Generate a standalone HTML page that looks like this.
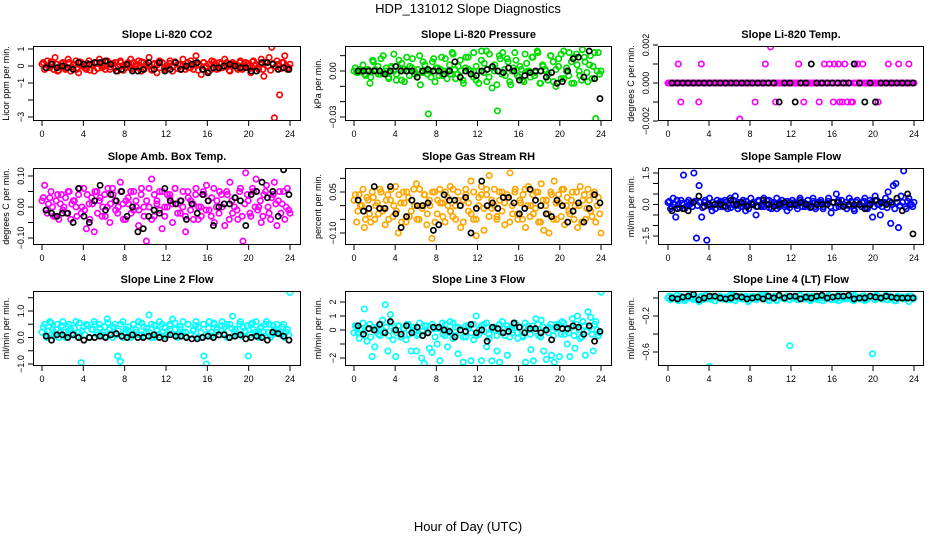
<!DOCTYPE html>
<html><head><meta charset="utf-8"><style>
html,body{margin:0;padding:0;background:#fff;}
svg{display:block;font-family:"Liberation Sans",sans-serif;}
</style></head><body>
<svg id="c" width="936" height="540" viewBox="0 0 936 540">
<text x="468" y="13" text-anchor="middle" font-size="13">HDP_131012  Slope Diagnostics</text>
<text x="468" y="531" text-anchor="middle" font-size="13">Hour of Day (UTC)</text>
</svg>
<script>
const xTicks=[0,4,8,12,16,20,24];
const co2Col=[0.1,-0.2,0.3,-0.1,0.2,0.5,-0.3,0.0,0.2,-0.2,0.4,-0.3,0.1,0.3,-0.4,0.2,0.0,-0.2,0.3,0.1,-0.3,0.2,0.4,-0.1,0.0,0.3,-0.2,0.1,0.2,-0.3,0.3,0.0,-0.1,0.2,0.4,-0.2,0.1,0.3,-0.3,0.2,0.0,0.5,-0.2,0.1,-0.4,0.3,0.2,-0.1,0.0,0.3,-0.3,0.2,0.1,-0.2,0.4,0.0,-0.1,0.3,-0.2,0.6,0.1,-0.5,0.2,0.0,-0.3,0.3,0.1,-0.2,0.2,-0.1,0.4,0.0,-0.3,0.2,0.1,-0.2,0.3,-0.1,0.2,0.0,-0.4,0.3,0.1,-0.2,0.4,-0.6,0.2,0.5,1.1,-3.05,0.3,-1.7,0.2,0.6,-0.2,0.1];
const co2Col2=[0.2,-0.1,0.0,0.25,-0.2,0.1,-0.25,0.15,0.0,-0.15,0.2,-0.05,0.1,-0.2,0.25,0.0,-0.1,0.15,-0.25,0.05,0.2,-0.15,0.1,0.0,-0.2,0.25,-0.05,0.15,-0.1,0.0,0.2,-0.25,0.1,0.05,-0.15,0.2,0.0,-0.1,0.25,-0.2,0.1,0.0,-0.25,0.15,0.05,-0.1,0.2,-0.2,0.0,0.15,-0.05,0.25,-0.15,0.1,0.0,-0.2,0.2,-0.1,0.05,0.15,-0.25,0.0,0.2,-0.1,0.1,-0.2,0.25,0.0,-0.15,0.15,-0.05,0.2,-0.25,0.1,0.0,-0.1,0.2,-0.2,0.05,0.15,-0.15,0.25,0.0,-0.1,0.1,-0.2,0.2,0.0,-0.25,0.15,-0.05,0.1,-0.15,0.2,0.0,-0.1];
const co2Blk=[-0.1,0.1,-0.1,0.0,-0.1,-0.2,0.2,0.1,0.1,0.2,0.2,0.3,0.1,-0.3,-0.2,0.1,-0.3,-0.3,-0.2,0.2,-0.2,0.2,-0.3,-0.2,0.2,-0.2,0.0,0.1,0.2,-0.2,-0.4,-0.1,-0.1,0.0,0.1,0.0,-0.1,-0.1,-0.3,-0.3,0.2,0.2,0.1,-0.2,-0.1,-0.2];
const presCol=[0.0,-0.001,0.001,0.0,-0.002,0.0,-0.008,0.007,0.001,0.003,-0.002,0.01,0.0,-0.004,0.002,0.011,-0.006,0.001,0.005,-0.007,0.0,0.003,0.008,-0.002,0.001,-0.009,0.006,0.0,-0.028,-0.004,0.008,0.002,-0.003,0.009,0.0,-0.005,0.004,0.012,0.001,-0.002,0.007,-0.006,0.002,0.009,0.0,-0.004,0.003,-0.008,0.013,0.005,-0.007,0.011,-0.011,0.004,-0.026,0.008,0.012,-0.003,0.006,-0.009,0.002,0.007,-0.004,0.001,-0.007,0.005,0.0,0.009,-0.003,0.013,-0.008,0.004,0.001,-0.006,0.01,0.006,-0.01,0.003,0.011,-0.005,0.002,0.012,-0.008,0.009,0.004,-0.003,0.014,0.006,-0.007,0.01,0.003,-0.031,0.012,0.0];
const presCol2=[0.002,-0.001,0.0,0.004,-0.003,0.001,-0.004,0.006,0.0,-0.002,0.008,-0.001,0.002,-0.005,0.003,0.0,-0.002,0.007,-0.006,0.001,0.009,-0.003,0.002,0.0,-0.004,0.01,-0.001,0.004,-0.002,0.0,0.006,-0.007,0.002,0.001,-0.003,0.008,0.0,-0.002,0.011,-0.005,0.003,0.0,-0.008,0.009,0.001,-0.002,0.012,-0.006,0.0,0.007,-0.001,0.013,-0.004,0.002,0.0,-0.009,0.01,-0.002,0.001,0.008,-0.007,0.0,0.012,-0.003,0.003,-0.006,0.011,0.0,-0.004,0.009,-0.001,0.012,-0.008,0.003,0.0,-0.002,0.01,-0.007,0.001,0.008,-0.005,0.013,0.0,-0.003,0.006,-0.008,0.011,0.0,-0.006,0.009,-0.001,0.004,-0.005,0.012,0.0,-0.002];
const presBlk=[0.0,0.0,0.0,0.0,0.0,-0.002,0.0,0.003,0.0,0.0,0.0,-0.004,0.0,0.001,0.0,0.0,-0.002,0.0,0.006,-0.004,0.0,-0.002,-0.003,0.0,0.001,0.003,0.0,-0.001,0.002,0.0,-0.006,-0.003,-0.001,0.0,0.0,-0.004,-0.001,-0.008,-0.007,0.0,0.008,0.009,-0.004,0.013,-0.005,-0.018];
const tempCol=[0,0,0,0,0.001,-0.001,0,0,0,0,0,0,-0.001,0.001,0,0,0,0,0,0,0,0,0,0,0,0,0,0,-0.0019,0,0,0,0,0,-0.001,0,0,0,0.001,0,0.0019,0,-0.001,0,0,0,0,0,0,0,0,0.001,0,-0.001,0,0,0,0,0,-0.001,0,0.001,0,0.001,0,0.001,0,-0.001,-0.001,0.001,-0.001,0,-0.001,0.001,0.001,0,0.001,0,0,0,0,0,-0.001,0,0,0,0.001,0,0,0,0.001,0,0,0,0.001,0,0];
const tempCol2=[0,0,0,0,0,0,0,0,0,0,0,0,0,0,0,0,0,0,0,0,0,0,0,0,0,0,0,0,0,0,0,0,0,0,0,0,0,0,0,0,0,0,0,0,0,0,0,0,0,0,0,0,0,0,0,0,0,0,0,0,0,0,0,0,-0.001,0,0.001,0,0,0,0,-0.001,0,0,0,0,0,0,0,0,0,0,0,0,0,0,0,0,0,0,0,0,0,0,0,0];
const tempBlk=[0,0,0,0,0,0,0,0,0,0,0,0,0,0,0,0,0,0,0,0,-0.001,0,0,-0.001,0,0,0.001,0,0,0,0,0,0,0,0.001,0,-0.001,0,-0.001,0,0,0,0,0,0,0];
const ambCol=[0.02,0.07,-0.02,0.03,0.0,-0.03,0.04,0.01,-0.01,0.03,0.05,-0.04,0.02,0.0,0.04,-0.02,0.06,-0.07,0.01,0.03,-0.08,0.05,0.02,-0.03,0.04,0.0,-0.05,0.06,0.02,-0.02,0.08,0.01,-0.04,0.03,0.05,-0.01,0.02,-0.06,0.04,0.0,-0.11,0.06,0.09,-0.03,0.02,0.05,-0.07,0.0,0.04,0.03,-0.05,0.06,0.01,-0.02,0.05,-0.08,0.03,0.02,-0.04,0.06,0.0,-0.03,0.04,0.07,-0.01,0.03,-0.05,0.02,0.05,0.0,-0.06,0.04,0.08,-0.02,0.03,-0.04,0.06,-0.11,0.11,0.02,-0.03,0.05,0.09,0.0,-0.05,0.04,0.07,-0.02,0.03,0.08,-0.06,0.05,0.01,-0.04,0.06,-0.02];
const ambCol2=[0.03,-0.01,0.01,0.05,-0.03,0.02,-0.04,0.04,0.0,-0.02,0.05,0.01,0.02,-0.03,0.06,0.0,-0.01,0.04,-0.04,0.01,0.05,-0.02,0.03,0.0,-0.03,0.06,0.01,0.04,-0.01,0.0,0.05,-0.04,0.02,0.01,-0.02,0.05,0.0,-0.01,0.06,-0.03,0.02,0.0,-0.04,0.04,0.01,-0.01,0.05,-0.03,0.0,0.04,0.01,0.06,-0.02,0.02,0.0,-0.03,0.05,-0.01,0.01,0.04,-0.04,0.0,0.05,-0.01,0.02,-0.03,0.06,0.0,-0.02,0.04,0.01,0.05,-0.04,0.02,0.0,-0.01,0.05,-0.03,0.01,0.04,-0.02,0.06,0.0,-0.01,0.02,-0.03,0.05,0.0,-0.04,0.04,0.01,0.02,-0.02,0.05,0.0,-0.01];
const ambBlk=[-0.01,-0.02,-0.03,-0.02,-0.02,-0.05,0.06,-0.03,-0.05,0.02,0.07,-0.01,0.04,0.02,0.05,-0.03,0.0,-0.08,-0.07,-0.03,-0.01,-0.02,0.06,0.02,0.01,0.02,-0.04,0.01,-0.02,0.04,0.02,-0.06,0.0,0.01,0.01,0.03,0.02,-0.06,0.04,0.05,0.08,0.03,0.05,-0.03,0.12,0.04];
const rhCol=[0.02,-0.06,0.04,0.0,-0.08,0.03,-0.03,0.05,-0.05,0.01,0.06,-0.02,-0.07,0.04,0.02,-0.04,0.07,-0.1,0.01,0.05,-0.06,0.03,-0.02,0.06,0.08,-0.05,0.0,0.04,-0.07,0.02,-0.12,0.05,-0.03,0.06,0.01,-0.06,0.03,0.07,-0.04,0.0,0.05,-0.08,0.02,0.06,-0.02,0.09,-0.05,-0.11,0.03,0.07,-0.09,0.04,0.11,-0.01,0.06,-0.04,0.02,0.05,-0.07,0.03,0.12,-0.03,0.06,-0.05,0.01,0.04,-0.08,0.07,0.0,-0.03,0.05,-0.06,0.08,-0.09,0.02,-0.1,0.04,0.09,-0.05,0.01,0.06,-0.07,0.03,-0.03,0.05,0.0,-0.08,0.07,0.02,-0.05,0.06,-0.02,0.04,-0.06,0.03,-0.1];
const rhCol2=[0.04,-0.02,0.0,0.06,-0.05,0.02,-0.06,0.03,0.0,-0.03,0.05,-0.01,0.02,-0.05,0.06,0.0,-0.02,0.04,-0.06,0.01,0.05,-0.04,0.02,0.0,-0.05,0.06,-0.01,0.04,-0.03,0.0,0.05,-0.06,0.02,0.01,-0.04,0.05,0.0,-0.02,0.06,-0.05,0.02,0.0,-0.06,0.04,0.01,-0.03,0.05,-0.05,0.0,0.04,-0.01,0.06,-0.04,0.02,0.0,-0.05,0.05,-0.02,0.01,0.04,-0.06,0.0,0.05,-0.03,0.02,-0.05,0.06,0.0,-0.04,0.04,-0.01,0.05,-0.06,0.02,0.0,-0.03,0.05,-0.05,0.01,0.04,-0.04,0.06,0.0,-0.02,0.02,-0.05,0.05,0.0,-0.06,0.04,-0.01,0.02,-0.04,0.05,0.0,-0.03];
const rhBlk=[0.02,-0.02,-0.01,0.07,-0.01,-0.01,0.07,-0.03,-0.08,-0.04,0.02,0.0,0.0,0.01,-0.09,-0.07,0.04,0.02,0.02,0.0,0.03,-0.1,-0.01,0.09,0.0,0.01,-0.01,0.03,0.03,0.01,-0.03,-0.01,0.06,0.02,0.0,-0.03,-0.04,0.02,0.0,-0.06,-0.02,0.01,-0.06,-0.01,0.04,0.01];
const sampCol=[0.1,-0.2,0.3,-0.6,0.0,0.2,1.4,-0.1,0.2,0.1,1.5,-1.6,0.9,-0.6,0.1,-1.7,0.3,-0.3,0.0,0.2,-0.1,0.1,0.2,-0.2,0.3,0.0,0.4,-0.2,0.1,0.2,-0.3,0.0,0.3,0.1,-0.5,0.2,-0.1,0.3,0.0,0.2,-0.2,0.1,0.3,-0.1,0.2,0.0,-0.3,0.1,0.2,0.0,-0.2,0.3,0.1,-0.1,0.2,0.0,0.3,-0.2,0.1,0.2,-0.1,0.0,0.3,-0.4,0.1,0.5,-0.1,0.2,0.0,-0.2,0.3,0.1,-0.3,0.2,0.0,0.1,0.3,-0.2,0.2,-0.6,0.4,0.0,-0.5,0.1,0.3,0.6,-0.9,0.9,1.0,-1.1,0.4,1.6,-0.2,0.3,0.0,0.1];
const sampCol2=[0.15,-0.1,0.0,0.2,-0.15,0.05,-0.2,0.1,0.0,-0.1,0.15,-0.05,0.1,-0.15,0.2,0.0,-0.1,0.1,-0.2,0.05,0.15,-0.1,0.1,0.0,-0.15,0.2,-0.05,0.1,-0.1,0.0,0.15,-0.2,0.05,0.05,-0.1,0.15,0.0,-0.1,0.2,-0.15,0.1,0.0,-0.2,0.1,0.05,-0.1,0.15,-0.15,0.0,0.1,-0.05,0.2,-0.1,0.05,0.0,-0.15,0.15,-0.1,0.05,0.1,-0.2,0.0,0.15,-0.1,0.1,-0.15,0.2,0.0,-0.1,0.1,-0.05,0.15,-0.2,0.1,0.0,-0.1,0.15,-0.15,0.05,0.1,-0.1,0.2,0.0,-0.1,0.1,-0.15,0.15,0.0,-0.2,0.1,-0.05,0.1,-0.1,0.15,0.0,-0.1];
const sampBlk=[-0.3,-0.2,-0.2,-0.3,0.1,0.4,-0.1,0.0,0.0,0.0,-0.1,0.2,0.0,0.1,-0.1,0.0,-0.1,0.2,0.0,-0.1,0.0,0.1,0.0,0.0,0.1,0.0,-0.1,0.0,0.0,0.0,0.1,0.1,-0.1,0.0,0.0,0.0,-0.2,0.0,0.2,0.1,0.0,0.1,0.3,-0.3,0.5,-1.4];
const l2Col=[0.2,0.5,0.0,0.6,0.3,0.1,0.5,0.2,0.6,0.0,0.4,0.3,0.1,0.6,0.2,-0.95,0.4,0.5,0.0,0.3,0.6,0.2,0.5,0.1,0.4,0.7,0.3,0.0,0.5,-0.7,-0.9,0.6,0.2,0.4,0.0,0.5,0.3,0.6,0.1,0.4,0.2,0.85,0.5,0.0,0.3,0.6,0.2,0.4,0.1,0.5,0.7,0.3,0.0,0.4,0.6,0.2,0.5,0.1,0.3,0.6,0.4,0.0,-0.7,-1.0,0.6,0.2,0.5,0.3,0.1,0.6,0.4,0.0,0.5,0.8,0.3,0.1,0.6,0.4,0.2,-0.7,0.5,0.3,0.6,0.0,0.4,0.2,0.6,0.5,0.1,0.3,0.5,0.2,0.4,0.0,0.3,1.7];
const l2Col2=[0.4,0.1,0.25,0.55,0.05,0.3,0.0,0.45,0.2,0.1,0.5,0.15,0.35,0.05,0.55,0.25,0.1,0.45,0.0,0.3,0.5,0.1,0.35,0.2,0.05,0.55,0.15,0.4,0.1,0.25,0.5,0.0,0.3,0.25,0.1,0.5,0.2,0.1,0.55,0.05,0.35,0.2,0.0,0.45,0.25,0.1,0.5,0.05,0.2,0.45,0.15,0.55,0.1,0.3,0.2,0.05,0.5,0.1,0.25,0.45,0.0,0.2,0.5,0.1,0.35,0.05,0.55,0.2,0.1,0.45,0.15,0.5,0.0,0.35,0.2,0.1,0.5,0.05,0.25,0.45,0.1,0.55,0.2,0.1,0.35,0.05,0.5,0.2,0.0,0.45,0.15,0.3,0.1,0.5,0.2,0.1];
const l2Blk=[0.05,-0.1,0.1,0.1,0.0,0.1,0.0,-0.1,0.0,0.0,0.05,0.0,0.1,0.15,0.05,0.0,0.1,0.0,0.0,0.05,0.1,0.0,-0.05,0.1,0.05,0.05,0.0,-0.05,-0.05,0.0,0.05,0.0,0.1,0.1,0.0,0.05,0.1,-0.05,0.0,0.05,0.0,-0.1,0.2,0.15,0.05,-0.1];
const l3Col=[-0.2,0.3,-0.6,0.1,1.5,-0.8,0.4,-1.9,-1.2,0.2,-0.4,0.7,1.8,-1.5,1.1,-0.7,-1.9,0.3,-0.5,0.1,-0.7,0.4,-1.5,0.2,-1.5,-0.3,-2.0,-2.4,0.3,-1.3,-1.6,0.1,-1.0,-2.2,0.5,-0.4,-1.2,0.6,-0.6,0.2,-1.7,0.0,-2.3,-0.5,0.3,-2.2,-0.7,1.0,-0.3,-2.2,0.4,-1.2,-0.6,-2.2,0.2,-1.5,-2.3,0.6,-0.4,-1.8,0.1,-0.2,0.5,-0.6,0.2,-0.5,-2.3,0.3,-1.4,-2.2,0.8,-0.4,0.7,-1.5,-2.1,0.2,-1.8,-2.3,0.4,-1.9,0.6,-0.3,-1.0,-1.9,0.8,-1.3,1.0,-0.6,0.6,-1.8,1.3,0.9,-1.5,0.6,-0.4,2.7];
const l3Col2=[0.3,-0.2,0.0,0.5,-0.4,0.1,-0.5,0.2,0.0,-0.3,0.4,-0.1,0.2,-0.4,0.5,0.0,-0.2,0.3,-0.5,0.1,0.4,-0.3,0.2,0.0,-0.4,0.5,-0.1,0.3,-0.2,0.0,0.4,-0.5,0.1,0.1,-0.3,0.4,0.0,-0.2,0.5,-0.4,0.2,0.0,-0.5,0.3,0.1,-0.2,0.4,-0.4,0.0,0.3,-0.1,0.5,-0.3,0.1,0.0,-0.4,0.4,-0.2,0.1,0.3,-0.5,0.0,0.4,-0.2,0.2,-0.4,0.5,0.0,-0.3,0.3,-0.1,0.4,-0.5,0.2,0.0,-0.2,0.4,-0.4,0.1,0.3,-0.3,0.5,0.0,-0.2,0.2,-0.4,0.4,0.0,-0.5,0.3,-0.1,0.2,-0.3,0.4,0.0,-0.2];
const l3Blk=[0.3,-0.3,0.1,0.0,0.4,-0.2,0.6,0.0,-0.3,0.3,-0.2,0.2,-0.4,-0.2,0.2,0.2,0.0,-0.1,-0.5,0.0,-0.1,0.4,-0.2,0.0,-0.8,0.2,0.1,-0.2,-0.1,0.5,0.2,-0.2,0.1,0.1,-0.2,0.0,-0.7,0.2,0.1,0.1,0.3,0.2,-0.3,0.3,-0.8,-0.1];
const l4Col=[0.0,-0.02,0.01,0.0,-0.03,0.02,0.0,-0.01,0.03,0.0,-0.02,0.01,-0.04,0.02,0.0,-0.01,-0.76,0.01,-0.03,0.0,0.02,-0.01,0.0,-0.02,0.03,0.01,-0.03,0.0,0.02,-0.01,0.0,-0.04,0.01,0.02,-0.02,0.0,0.03,-0.01,0.01,-0.03,0.0,0.02,-0.02,0.01,0.0,-0.01,0.02,-0.53,0.0,0.01,-0.02,0.03,0.0,-0.01,0.02,-0.03,0.0,0.01,-0.02,0.02,0.0,-0.01,0.03,-0.02,0.01,0.0,-0.03,0.02,0.0,-0.01,0.01,-0.02,0.03,0.0,-0.01,0.02,-0.03,0.0,0.01,-0.62,-0.02,0.02,0.0,-0.01,0.03,-0.02,0.01,0.0,-0.03,0.02,0.0,-0.01,0.01,-0.04,0.02,0.0];
const l4Col2=[0.02,-0.01,0.0,0.03,-0.02,0.01,-0.03,0.01,0.0,-0.01,0.02,0.0,0.01,-0.02,0.03,0.0,-0.01,0.02,-0.03,0.0,0.02,-0.01,0.01,0.0,-0.02,0.03,0.0,0.01,-0.01,0.0,0.02,-0.03,0.01,0.0,-0.01,0.02,0.0,-0.01,0.03,-0.02,0.01,0.0,-0.03,0.02,0.0,-0.01,0.02,-0.02,0.0,0.02,0.0,0.03,-0.01,0.01,0.0,-0.02,0.02,-0.01,0.0,0.02,-0.03,0.0,0.02,-0.01,0.01,-0.02,0.03,0.0,-0.01,0.02,0.0,0.02,-0.03,0.01,0.0,-0.01,0.02,-0.02,0.0,0.02,-0.01,0.03,0.0,-0.01,0.01,-0.02,0.02,0.0,-0.03,0.02,0.0,0.01,-0.01,0.02,0.0,-0.01];
const l4Blk=[0.0,-0.01,0.01,0.02,0.04,-0.02,0.0,0.02,0.02,0.0,-0.01,0.0,0.02,0.01,-0.01,0.0,0.01,-0.01,0.02,0.0,0.03,0.0,0.02,0.02,-0.01,0.01,0.0,0.02,0.03,0.0,0.01,0.02,0.02,0.03,-0.01,0.0,0.0,0.02,0.01,0.0,0.02,0.01,0.0,0.0,0.0,0.0];

const NS='http://www.w3.org/2000/svg';
const svg=document.getElementById('c');
function el(tag,attrs,parent){const e=document.createElementNS(NS,tag);for(const k in attrs)e.setAttribute(k,attrs[k]);parent.appendChild(e);return e;}
const cols=[{l:33,r:301,x0:42,x24:290},{l:345,r:612,x0:354,x24:601},{l:658,r:924,x0:668,x24:914}];
const rows=[{t:46,b:121},{t:168,b:245},{t:291,b:366}];
const panels=[
 {title:'Slope Li-820 CO2',ylab:'Licor ppm per min.',col:'#ff0000',c:co2Col,c2:co2Col2,k:co2Blk,v1:1,p1:49,v2:-3,p2:117,ticks:[1,0,-1,-2,-3],labs:['1','0','\u22121','','\u22123']},
 {title:'Slope Li-820 Pressure',ylab:'kPa per min.',col:'#00dd00',c:presCol,c2:presCol2,k:presBlk,v1:0,p1:71,v2:-0.03,p2:117,ticks:[0.01,0,-0.01,-0.02,-0.03],labs:['','0.00','','','\u22120.03']},
 {title:'Slope Li-820 Temp.',ylab:'degrees C per min.',col:'#ff00ff',c:tempCol,c2:tempCol2,k:tempBlk,v1:0.002,p1:45,v2:-0.002,p2:121,ticks:[0.002,0.001,0,-0.001,-0.002],labs:['0.002','','0.000','','\u22120.002']},
 {title:'Slope Amb. Box Temp.',ylab:'degrees C per min.',col:'#ff00ff',c:ambCol,c2:ambCol2,k:ambBlk,v1:0.1,p1:176,v2:-0.1,p2:238,ticks:[0.1,0.05,0,-0.05,-0.1],labs:['0.10','','0.00','','\u22120.10']},
 {title:'Slope Gas Stream RH',ylab:'percent per min.',col:'#ffa500',c:rhCol,c2:rhCol2,k:rhBlk,v1:0.05,p1:192,v2:-0.1,p2:233,ticks:[0.1,0.05,0,-0.05,-0.1],labs:['','0.05','','','\u22120.10']},
 {title:'Slope Sample Flow',ylab:'ml/min per min.',col:'#0000ff',c:sampCol,c2:sampCol2,k:sampBlk,v1:1.5,p1:173,v2:-1.5,p2:236,ticks:[1.5,1,0.5,0,-0.5,-1,-1.5],labs:['1.5','','','0.0','','','\u22121.5']},
 {title:'Slope Line 2 Flow',ylab:'ml/min per min.',col:'#00ffff',c:l2Col,c2:l2Col2,k:l2Blk,v1:1,p1:311,v2:-1,p2:364,ticks:[1.5,1,0.5,0,-0.5,-1],labs:['','1.0','','0.0','','\u22121.0']},
 {title:'Slope Line 3 Flow',ylab:'ml/min per min.',col:'#00ffff',c:l3Col,c2:l3Col2,k:l3Blk,v1:2,p1:302,v2:-2,p2:358,ticks:[2,1,0,-1,-2],labs:['2','1','0','','\u22122']},
 {title:'Slope Line 4 (LT) Flow',ylab:'ml/min per min.',col:'#00ffff',c:l4Col,c2:l4Col2,k:l4Blk,v1:-0.2,p1:316,v2:-0.6,p2:352,ticks:[0,-0.2,-0.4,-0.6],labs:['','\u22120.2','','\u22120.6']}
];
panels.forEach((p,i)=>{
 const C=cols[i%3],R=rows[Math.floor(i/3)];
 const g=el('g',{},svg);
 
 
 const xs=h=>C.x0+(C.x24-C.x0)*h/24;
 const ys=v=>p.p1+(v-p.v1)*(p.p2-p.p1)/(p.v2-p.v1);
 const t=el('text',{x:(C.l+C.r)/2,y:R.t-8,'text-anchor':'middle','font-size':'11','font-weight':'bold'},g);
 t.textContent=p.title;
 
 
 const cp=el('clipPath',{id:'cp'+i},g);
 el('rect',{x:C.l,y:R.t,width:C.r-C.l,height:R.b-R.t},cp);
 const pts=el('g',{'clip-path':'url(#cp'+i+')',fill:'none','stroke-width':'1.7'},g);
 p.c.forEach((v,j)=>{
  const h=j*24/(p.c.length-1);
  const m=el('circle',{cx:xs(h),cy:ys(v),r:2.7,stroke:p.col},pts);
  
  
 });
 p.c2.forEach((v,j)=>{
  const h=(j+0.5)*24/p.c2.length;
  const m=el('circle',{cx:xs(h),cy:ys(v),r:2.7,stroke:p.col},pts);
  
  
 });
 p.k.forEach((v,j)=>{
  const h=0.4+j*23.5/(p.k.length-1);
  const m=el('circle',{cx:xs(h),cy:ys(v),r:2.6,stroke:'#000'},pts);
  
  
 });
 const box=el('rect',{x:C.l+0.5,y:R.t+0.5,width:C.r-C.l-1,height:R.b-R.t-1,fill:'none',stroke:'#000','stroke-width':'1'},g);
 
 
 xTicks.forEach(h=>{
  el('line',{x1:xs(h),x2:xs(h),y1:R.b,y2:R.b+5,stroke:'#000'},g);
  const lt=el('text',{x:xs(h),y:R.b+16,'text-anchor':'middle','font-size':'9'},g);
  lt.textContent=h;
  
  
 });
 p.ticks.forEach((v,j)=>{
  const y=ys(v);
  el('line',{x1:C.l-5,x2:C.l,y1:y,y2:y,stroke:'#000'},g);
  if(p.labs[j]){
   const lt=el('text',{x:C.l-9,y:y,'text-anchor':'middle','font-size':'9',transform:'rotate(-90 '+(C.l-9)+' '+y+')'},g);
   lt.textContent=p.labs[j];
   
   
  }
 });
 const yc=(R.t+R.b)/2, yx=C.l-24;
 const yl=el('text',{x:yx,y:yc,'text-anchor':'middle','font-size':'9',transform:'rotate(-90 '+yx+' '+yc+')'},g);
 yl.textContent=p.ylab;
 
 
});
</script>
</body></html>
